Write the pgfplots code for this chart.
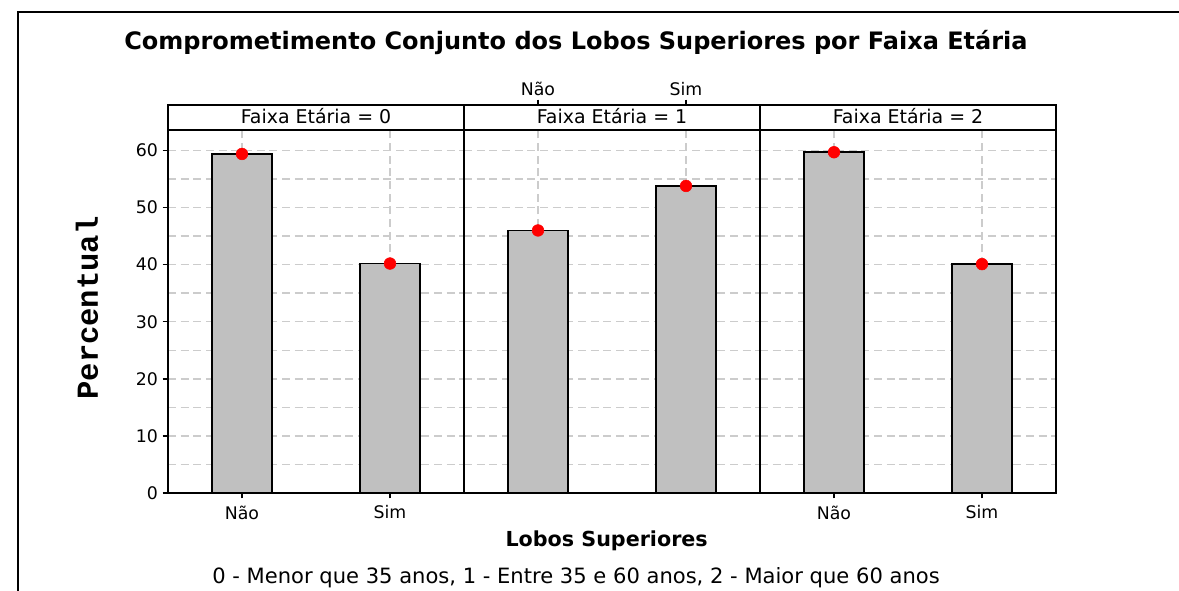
\documentclass[border=0pt]{standalone}
\usepackage{fontspec}
\setmainfont{DejaVu Sans}
\newfontfamily\monob{Liberation Mono}
\usepackage{pgfplots}
\pgfplotsset{compat=1.18}

\definecolor{bargray}{RGB}{192,192,192}
\definecolor{gridgray}{RGB}{204,204,204}

\pgfplotsset{
  panel/.style={
    scale only axis, width=222pt, height=272.25pt,
    xmin=-0.5, xmax=1.5, ymin=0, ymax=63.6,
    xtick={0,1}, xticklabels={Não,Sim},
    ytick={0,10,...,60}, minor ytick={5,15,...,55},
    grid=both,
    major grid style={gridgray, dash pattern=on 6pt off 3.5pt, line width=1.1pt},
    minor grid style={gridgray, dash pattern=on 6pt off 3.5pt, line width=1.1pt},
    axis line style={line width=1.4pt},
    tick align=outside, major tick length=4pt, minor tick length=0pt,
    tick style={black, line width=1pt},
    xtick pos=lower, ytick pos=left,
    ticklabel style={font=\fontsize{13}{15}\selectfont},
    xticklabel style={yshift=-2pt},
    /pgf/number format/assume math mode=true,
  },
  bars/.style={ybar, bar width=0.4, fill=bargray, draw=black, line width=1.4pt},
  dots/.style={only marks, mark=*, mark size=4.4pt, color=red},
}

\begin{document}
\begin{tikzpicture}
\path[use as bounding box] (0,0) rectangle (884.25pt,443.25pt);

\begin{axis}[panel, name=p0, at={(126pt,73.5pt)}, anchor=south west]
\addplot[bars] coordinates {(0,59.4) (1,40.2)};
\addplot[dots] coordinates {(0,59.4) (1,40.2)};
\end{axis}

\begin{axis}[panel, name=p1, at={(348pt,73.5pt)}, anchor=south west,
  yticklabels={}, ytick style={draw=none},
  xtick pos=upper, xticklabel pos=upper,
  xtick style={yshift=18.75pt}, xticklabel style={yshift=20.5pt}]
\addplot[bars] coordinates {(0,46.0) (1,53.8)};
\addplot[dots] coordinates {(0,46.0) (1,53.8)};
\end{axis}

\begin{axis}[panel, name=p2, at={(570pt,73.5pt)}, anchor=south west,
  yticklabels={}, ytick style={draw=none}]
\addplot[bars] coordinates {(0,59.7) (1,40.1)};
\addplot[dots] coordinates {(0,59.7) (1,40.1)};
\end{axis}

% strip boxes
\draw[line width=1.4pt] (p0.north west) -- ++(0,18.75pt) -| (p2.north east);
\draw[line width=1.4pt] (p1.north west) -- ++(0,18.75pt);
\draw[line width=1.4pt] (p2.north west) -- ++(0,18.75pt);
\foreach \p/\k in {p0/0,p1/1,p2/2}
  \node[anchor=base, font=\fontsize{14.2}{16}\selectfont, inner sep=0pt]
    at ([yshift=4.6pt]\p.north) {Faixa Etária = \k};

% frame
\draw[line width=2pt] (13.5pt,0) -- (13.5pt,434.25pt) -- (884.25pt,434.25pt);

\node[font=\bfseries\fontsize{18}{21}\selectfont] at (432pt,411pt)
  {Comprometimento Conjunto dos Lobos Superiores por Faixa Etária};
\node[font=\bfseries\fontsize{15.5}{18}\selectfont] at (455pt,37.5pt) {Lobos Superiores};
\node[font=\fontsize{15.8}{18}\selectfont] at (432pt,9.75pt)
  {0 - Menor que 35 anos, 1 - Entre 35 e 60 anos, 2 - Maior que 60 anos};
\node[rotate=90, font=\monob\bfseries\fontsize{22.9}{25}\selectfont] at (65.25pt,212.25pt) {Percentual};
\end{tikzpicture}
\end{document}
